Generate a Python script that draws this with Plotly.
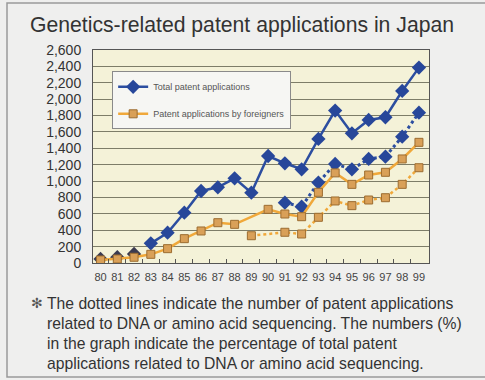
import plotly.graph_objects as go

years = ["80", "81", "82", "83", "84", "85", "86", "87", "88", "89",
         "90", "91", "92", "93", "94", "95", "96", "97", "98", "99"]
total = [50, 70, 110, 240, 370, 614, 879, 924, 1034, 858,
         1306, 1217, 1144, 1514, 1860, 1583, 1746, 1779, 2100, 2385]
foreign = [37, 49, 70, 106, 175, 297, 391, 492, 472, None,
           655, 598, 565, 863, 1100, 960, 1074, 1107, 1270, 1473]
dna_total = [None] * 11 + [736, 688, 982, 1209, 1144, 1270, 1298, 1542, 1835]
dna_foreign = [None] * 9 + [333, None, 375, 354, 558, 757, 700, 769, 797, 960, 1163]
yticks = list(range(0, 2601, 200))

x = list(range(len(years)))
BLUE = "#27479a"
BLUE_LINE = "#2c4ea0"
ORANGE_LINE = "#f0a83a"
ORANGE_FILL = "#d9a058"
ORANGE_EDGE = "#9c6c30"

fig = go.Figure()

# dotted DNA series
fig.add_trace(go.Scatter(x=x, y=dna_foreign, mode="lines+markers", connectgaps=True,
                         line=dict(color=ORANGE_LINE, width=2.5, dash="dot"),
                         marker=dict(symbol="square", size=8, color=ORANGE_FILL,
                                     line=dict(color=ORANGE_EDGE, width=1)),
                         showlegend=False))
fig.add_trace(go.Scatter(x=x, y=dna_total, mode="lines+markers", connectgaps=True,
                         line=dict(color=BLUE_LINE, width=3, dash="dot"),
                         marker=dict(symbol="diamond", size=11, color=BLUE,
                                     line=dict(color=BLUE, width=0)),
                         showlegend=False))
# total: early points as markers only, line from 83 on
fig.add_trace(go.Scatter(x=x[:3], y=total[:3], mode="markers",
                         marker=dict(symbol="diamond", size=11, color="#3a3a50"),
                         showlegend=False))
fig.add_trace(go.Scatter(x=x[3:], y=total[3:], mode="lines+markers",
                         name="Total patent applications", legendgroup="a",
                         line=dict(color=BLUE_LINE, width=2.5),
                         marker=dict(symbol="diamond", size=11, color=BLUE,
                                     line=dict(color=BLUE, width=0))))
fig.add_trace(go.Scatter(x=x, y=foreign, mode="lines+markers", connectgaps=True,
                         name="Patent applications by foreigners", legendgroup="b",
                         line=dict(color=ORANGE_LINE, width=2.5),
                         marker=dict(symbol="square", size=8, color=ORANGE_FILL,
                                     line=dict(color=ORANGE_EDGE, width=1))))

font = "Liberation Sans, Arial, sans-serif"
fig.update_layout(
    width=485, height=380,
    margin=dict(l=93, r=56, t=50, b=117),
    paper_bgcolor="#efefee",
    plot_bgcolor="#f4f2d8",
    font=dict(family=font, color="#333333"),
    showlegend=True,
    legend=dict(x=0.057, y=0.90, xanchor="left", yanchor="top",
                bgcolor="#f6f6f3", bordercolor="#8a8a8a", borderwidth=1,
                font=dict(size=9, color="#555555"),
                itemwidth=30, tracegroupgap=8),
    xaxis=dict(range=[-0.45, 19.6], tickmode="array", tickvals=x, ticktext=years,
               ticks="", showgrid=False, zeroline=False,
               tickfont=dict(size=11, color="#444444"),
               showline=True, linecolor="#555555", linewidth=1, mirror=True,
               minor=dict(tickvals=[i + 0.5 for i in x[:-1]], ticks="inside",
                          ticklen=4, tickcolor="#555555", showgrid=False),
               ticklabelstandoff=4),
    yaxis=dict(range=[0, 2600], tickmode="array", tickvals=yticks,
               tickformat=",d", ticks="", showgrid=True, gridcolor="#7d7d68",
               gridwidth=1, zeroline=False,
               tickfont=dict(size=14, color="#333333"),
               showline=True, linecolor="#555555", linewidth=1, mirror=True,
               ticklabelstandoff=8),
)

# outer frame
fig.add_shape(type="rect", xref="paper", yref="paper",
              x0=(7 - 93) / 336, x1=(495 - 93) / 336,
              y0=(263 - 377) / 213, y1=(263 - 3) / 213,
              line=dict(color="#9a9a9a", width=1.5), fillcolor="rgba(0,0,0,0)",
              layer="below")

fig.add_annotation(text="Genetics-related patent applications in Japan",
                   xref="paper", yref="paper",
                   x=(242 - 93) / 336, y=(263 - 25) / 213,
                   xanchor="center", yanchor="middle", showarrow=False,
                   font=dict(size=21.2, color="#333333", family=font))

notes = ["The dotted lines indicate the number of patent applications",
         "related to DNA or amino acid sequencing. The numbers (%)",
         "in the graph indicate the percentage of total patent",
         "applications related to DNA or amino acid sequencing."]
fig.add_annotation(text="✻", xref="paper", yref="paper",
                   x=(29 - 93) / 336, y=(263 - 303) / 213,
                   xanchor="left", yanchor="middle", showarrow=False,
                   font=dict(size=14, color="#555555", family="DejaVu Sans"))
for i, line in enumerate(notes):
    fig.add_annotation(text=line, xref="paper", yref="paper",
                       x=(45 - 93) / 336, y=(263 - (303 + i * 20)) / 213,
                       xanchor="left", yanchor="middle", showarrow=False,
                       font=dict(size=15.7, color="#333333", family=font))

fig.write_html("out.html")
